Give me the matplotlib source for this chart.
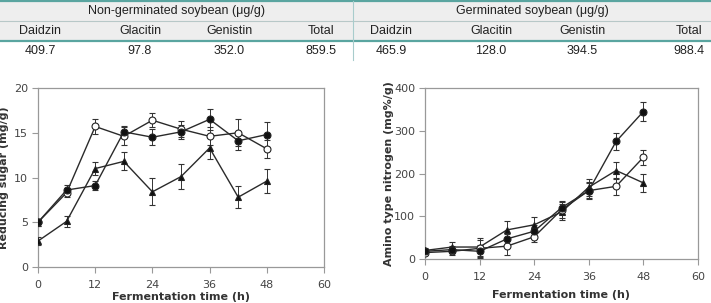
import numpy as np
import matplotlib.pyplot as plt

# table data
groups = ['Non-germinated soybean (\u03bcg/g)', 'Germinated soybean (\u03bcg/g)']
compounds = ['Daidzin', 'Glacitin', 'Genistin', 'Total']
non_germ = ['409.7', '97.8', '352.0', '859.5']
germ = ['465.9', '128.0', '394.5', '988.4']

# fermentation time (h)
hours = [0, 6, 12, 18, 24, 30, 36, 42, 48]

# reducing sugar (mg/g)
sugar_filled = [5.0, 8.6, 9.1, 15.1, 14.5, 15.1, 16.5, 14.1, 14.8]
sugar_filled_err = [0.4, 0.6, 0.5, 0.7, 0.9, 0.8, 1.2, 1.0, 1.4]
sugar_open = [5.0, 8.3, 15.7, 14.6, 16.4, 15.4, 14.6, 15.0, 13.2]
sugar_open_err = [0.4, 0.5, 0.8, 1.0, 0.8, 0.9, 1.0, 1.5, 1.0]
sugar_tri = [2.9, 5.1, 11.0, 11.8, 8.4, 10.1, 13.3, 7.8, 9.6]
sugar_tri_err = [0.4, 0.6, 0.7, 1.0, 1.5, 1.4, 1.2, 1.2, 1.3]

# amino type nitrogen (mg%/g)
amino_filled = [18, 22, 18, 47, 65, 120, 160, 275, 345]
amino_filled_err = [5, 8, 15, 12, 15, 15, 18, 20, 22]
amino_open = [15, 18, 25, 30, 52, 115, 160, 170, 238]
amino_open_err = [5, 8, 20, 20, 12, 18, 20, 20, 18]
amino_tri = [20, 28, 28, 68, 80, 110, 168, 207, 178]
amino_tri_err = [5, 12, 20, 20, 18, 18, 20, 20, 22]

W, H = 711, 303
plt.rcParams['font.family'] = ['DejaVu Sans']
fig = plt.figure(figsize=(W / 100, H / 100), dpi=100)

teal = '#5aa5a0'
txt = '#222222'
tfont = 'Liberation Sans'


def fx(px):
    return px / W


def fy(py):
    return 1 - py / H


# ---- table ----
fig.patches.append(plt.Rectangle((0, fy(41)), 1, fy(1) - fy(41), transform=fig.transFigure,
                                 facecolor='#eeeeee', edgecolor='none', zorder=0))
for y, c, lw in [(1, teal, 1.6), (21, '#b8c8c8', 0.8), (41, teal, 1.6)]:
    fig.add_artist(plt.Line2D([0, 1], [fy(y), fy(y)], transform=fig.transFigure, color=c, lw=lw))
fig.add_artist(plt.Line2D([fx(353), fx(353)], [fy(1), fy(60)], transform=fig.transFigure,
                          color='#a8cccc', lw=0.8))

fig.text(fx(176), fy(11), groups[0], ha='center', va='center', fontsize=9, color=txt, family=tfont)
fig.text(fx(532), fy(11), groups[1], ha='center', va='center', fontsize=9, color=txt, family=tfont)
left_x = [40, 140, 229, 321]
right_x = [391, 491, 582, 689]
for i, c in enumerate(compounds):
    fig.text(fx(left_x[i]), fy(31), c, ha='center', va='center', fontsize=9, color=txt, family=tfont)
    fig.text(fx(right_x[i]), fy(31), c, ha='center', va='center', fontsize=9, color=txt, family=tfont)
    fig.text(fx(left_x[i]), fy(51), non_germ[i], ha='center', va='center', fontsize=9, color=txt, family=tfont)
    fig.text(fx(right_x[i]), fy(51), germ[i], ha='center', va='center', fontsize=9, color=txt, family=tfont)

# ---- charts ----
ax1 = fig.add_axes([fx(38), fy(267), fx(324 - 38), fy(88) - fy(267)])
ax2 = fig.add_axes([fx(425), fy(259), fx(698 - 425), fy(88) - fy(259)])


def plot_series(ax, y, err, marker, filled):
    ax.errorbar(hours, y, yerr=err, color='#2a2a2a', lw=1.0, marker=marker, ms=5,
                mfc='#111111' if filled else 'white', mec='#222222', mew=0.8,
                ecolor='#333333', elinewidth=0.7, capsize=2.2, capthick=0.7, zorder=3)


plot_series(ax1, sugar_tri, sugar_tri_err, '^', True)
plot_series(ax1, sugar_open, sugar_open_err, 'o', False)
plot_series(ax1, sugar_filled, sugar_filled_err, 'o', True)

plot_series(ax2, amino_tri, amino_tri_err, '^', True)
plot_series(ax2, amino_open, amino_open_err, 'o', False)
plot_series(ax2, amino_filled, amino_filled_err, 'o', True)

for ax, ymax, ystep, ylabel, lx, xpad in [(ax1, 20, 5, 'Reducing sugar (mg/g)', -0.1, 2),
                                          (ax2, 400, 100, 'Amino type nitrogen (mg%/g)', -0.115, 6)]:
    ax.set_xlim(0, 60)
    ax.set_ylim(0, ymax)
    ax.set_xticks(np.arange(0, 61, 12))
    ax.set_yticks(np.arange(0, ymax + 1, ystep))
    for s in ax.spines.values():
        s.set_color('#999999')
        s.set_linewidth(0.9)
    ax.tick_params(colors='#999999', labelcolor='#444444', labelsize=8, length=4, width=0.8)
    ax.tick_params(axis='x', pad=5)
    ax.tick_params(axis='y', pad=3)
    ax.set_ylabel(ylabel, fontsize=8, fontweight='bold', color='#333333')
    ax.yaxis.set_label_coords(lx, 0.5)
    ax.set_xlabel('Fermentation time (h)', fontsize=8, fontweight='bold', color='#333333', labelpad=xpad)

fig.savefig('out.png', dpi=100, facecolor='white')
